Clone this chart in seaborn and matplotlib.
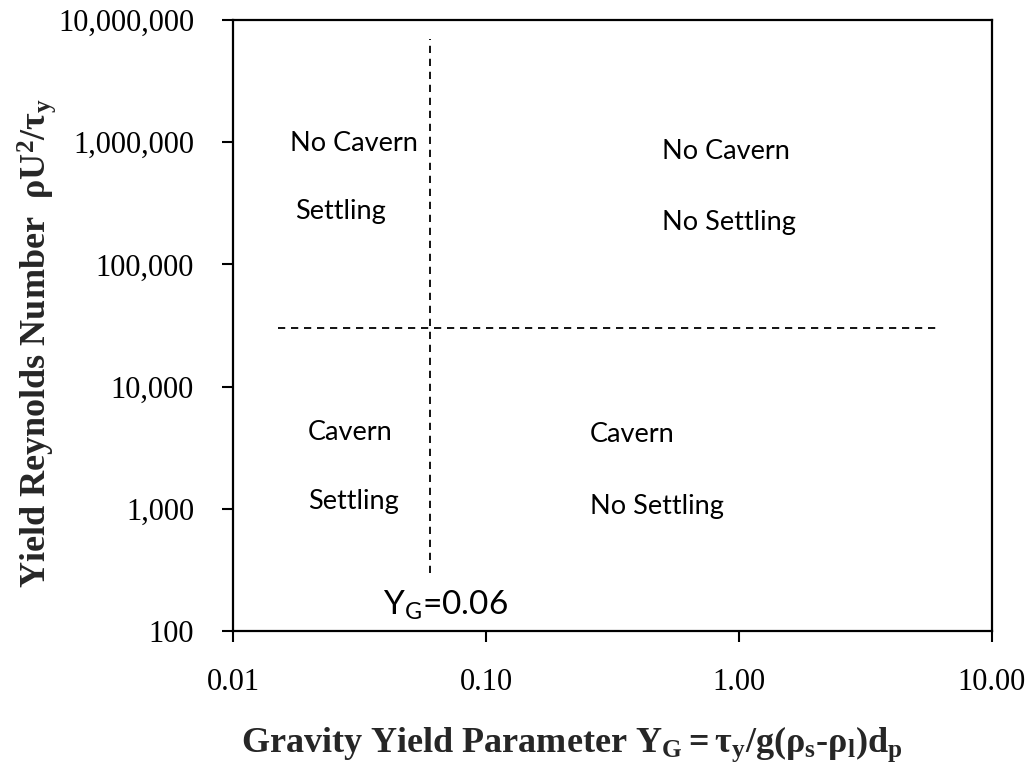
import matplotlib
matplotlib.use("Agg")
import matplotlib.pyplot as plt
import seaborn as sns
import pandas as pd

# ---- data ----
boundary_yg = 0.06            # critical gravity yield parameter
boundary_re = 30000           # critical yield Reynolds number
vline_x = [0.06, 0.06]
vline_y = [300, 7_000_000]
hline_x = [0.015, 6.0]
hline_y = [30000, 30000]
x_ticks = [0.01, 0.1, 1, 10]
x_ticklabels = ["0.01", "0.10", "1.00", "10.00"]
y_ticks = [100, 1_000, 10_000, 100_000, 1_000_000, 10_000_000]
y_ticklabels = ["100", "1,000", "10,000", "100,000", "1,000,000", "10,000,000"]
region_labels = ["No Cavern", "Settling", "No Cavern", "No Settling",
                 "Cavern", "Settling", "Cavern", "No Settling"]

sns.set_style("white")
plt.rcParams.update({
    "mathtext.fontset": "custom",
    "mathtext.rm": "Liberation Serif:bold",
    "mathtext.it": "Liberation Serif:bold",
    "mathtext.bf": "Liberation Serif:bold",
    "mathtext.sf": "Lato",
})

fig = plt.figure(figsize=(10.32, 7.63), dpi=100)
ax = fig.add_axes([233 / 1032, 1 - 631 / 763, (992 - 233) / 1032, (631 - 20) / 763])

lines = pd.DataFrame({"x": vline_x + hline_x, "y": vline_y + hline_y,
                      "seg": ["v", "v", "h", "h"]})
for seg in ["v", "h"]:
    d = lines[lines.seg == seg]
    sns.lineplot(data=d, x="x", y="y", ax=ax, estimator=None, sort=False,
                 color="black", lw=1.3, linestyle=(0, (4, 3.2)))

ax.set_xscale("log")
ax.set_yscale("log")
ax.set_xlim(0.01, 10)
ax.set_ylim(100, 10_000_000)
ax.set_xticks(x_ticks)
ax.set_xticklabels(x_ticklabels)
ax.set_yticks(y_ticks)
ax.set_yticklabels(y_ticklabels)
ax.minorticks_off()
ax.tick_params(axis="both", which="major", bottom=True, left=True, top=False, right=False,
               direction="out", length=8, width=1.5, color="black",
               labelsize=22, labelcolor="black")
ax.tick_params(axis="y", pad=20)
ax.tick_params(axis="x", pad=19)
for lab in ax.get_xticklabels() + ax.get_yticklabels():
    lab.set_fontfamily("Liberation Serif")
for sp in ax.spines.values():
    sp.set_visible(True)
    sp.set_color("black")
    sp.set_linewidth(1.6)

# region annotations
pos = [(0.0168, 9.7e5), (0.0176, 2.73e5), (0.496, 8.47e5), (0.496, 2.22e5),
       (0.0198, 4250), (0.0198, 1158), (0.258, 4093), (0.258, 1054)]
for (px, py), txt in zip(pos, region_labels):
    ax.text(px, py, txt, fontsize=19.5, family="Lato", ha="left", va="center",
            color="black")

ax.text(0.0392, 163, r"$\mathsf{Y_G}$=0.06", fontsize=24, family="Lato",
        ha="left", va="center", color="black")

ax.set_xlabel(r"Gravity Yield Parameter $\mathbf{Y_G = \tau_y/g(\rho_s}$-$\mathbf{\rho_l)d_p}$",
              fontsize=26, fontweight="bold", family="Liberation Serif")
ax.xaxis.set_label_coords((572 - 233) / 759, (631 - 724) / 611)
ax.set_ylabel(r"Yield Reynolds Number  $\mathbf{\rho U^2/\tau_y}$",
              fontsize=26, fontweight="bold", family="Liberation Serif")
ax.yaxis.set_label_coords((58 - 233) / 759, (631 - 343) / 611)

fig.savefig("out.png", dpi=100, facecolor="white")
